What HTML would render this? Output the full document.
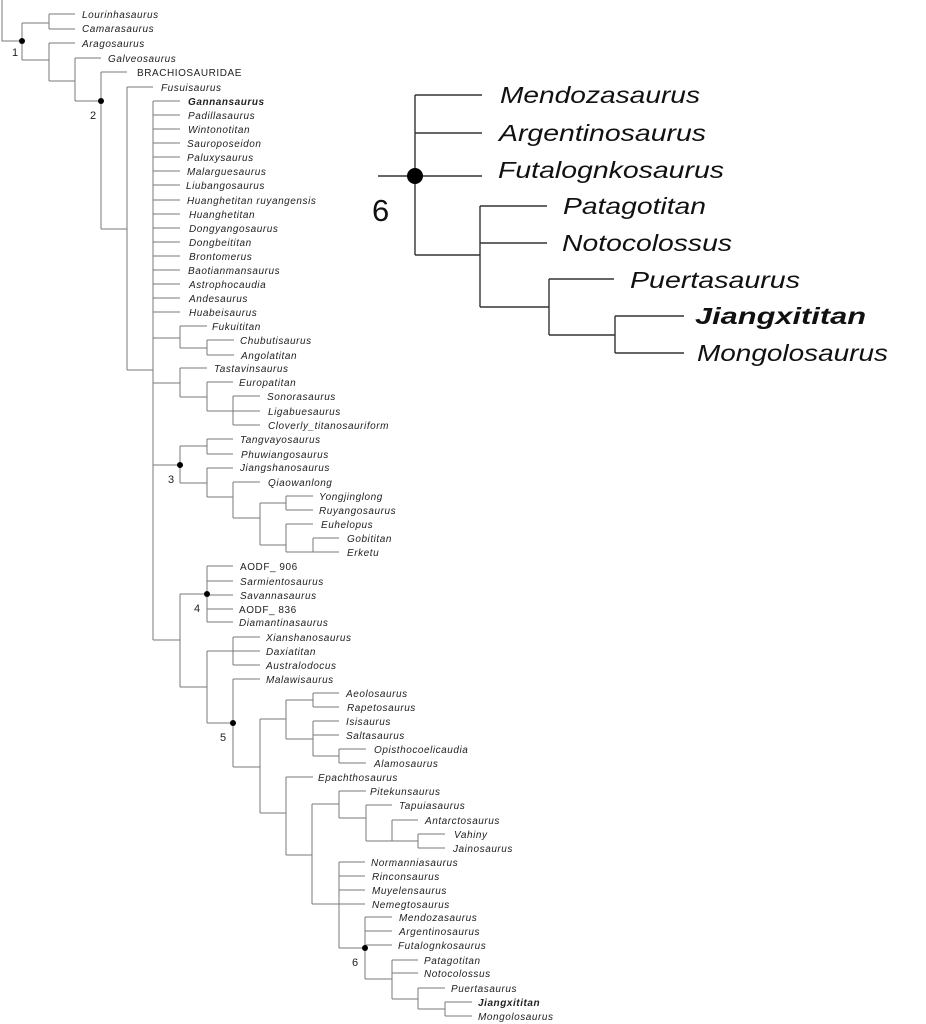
<!DOCTYPE html>
<html><head><meta charset="utf-8"><style>
html,body{margin:0;padding:0;background:#fff;}
svg{display:block;}
.t{font-family:"Liberation Sans",sans-serif;font-size:10px;font-style:italic;letter-spacing:0.55px;fill:#222;}
.u{font-style:normal;}
.b{font-weight:bold;}
.n{font-family:"Liberation Sans",sans-serif;font-size:11px;fill:#222;}
.L{font-family:"Liberation Sans",sans-serif;font-size:23px;font-style:italic;fill:#111;}
</style></head><body>
<svg width="926" height="1024" viewBox="0 0 926 1024" xmlns="http://www.w3.org/2000/svg">
<g stroke="#7a7a7a" stroke-width="1" fill="none">
<path d="M2,0V41H22 M22,23V60 M22,23H49 M49,14V29 M49,14H75 M49,29H75 M22,60H49 M49,43V81 M49,43H75 M49,81H75 M75,58V101 M75,58H101 M75,101H101 M101,72V229 M101,72H127 M101,229H127 M127,87V370 M127,87H153 M127,370H153 M153,101V640"/>
<path d="M153,101H180 M153,115H180 M153,129H180 M153,143H180 M153,157H180 M153,171H180 M153,185H180 M153,200H180 M153,214H180 M153,228H180 M153,242H180 M153,256H180 M153,270H180 M153,284H180 M153,298H180 M153,312H180"/>
<path d="M153,338H180 M180,326V348 M180,326H207 M180,348H207 M207,340V355 M207,340H234 M207,355H234"/>
<path d="M153,383H180 M180,368V397 M180,368H207 M180,397H207 M207,382V411 M207,382H233 M207,411H260 M233,396V425 M233,396H260 M233,425H260"/>
<path d="M153,465H180 M180,446V483 M180,446H207 M207,439V454 M207,439H233 M207,454H233 M180,483H207 M207,468V497 M207,468H233 M207,497H233 M233,482V518 M233,482H260 M233,518H260 M260,503V545 M260,503H286 M286,496V510 M286,496H313 M286,510H313 M260,545H286 M286,524V552 M286,524H313 M286,552H313 M313,538V552 M313,538H339 M313,552H339"/>
<path d="M153,640H180 M180,594V687 M180,594H207 M207,566V622 M207,566H233 M207,581H233 M207,595H233 M207,609H233 M207,622H233 M180,687H207 M207,651V723 M207,651H233 M233,637V665 M233,637H260 M233,651H260 M233,665H260 M207,723H233 M233,679V767 M233,679H260 M233,767H260"/>
<path d="M260,719V813 M260,719H286 M286,700V739 M286,700H313 M313,693V707 M313,693H339 M313,707H339 M286,739H313 M313,721V756 M313,721H339 M313,735H339 M313,756H339 M339,749V763 M339,749H366 M339,763H366"/>
<path d="M260,813H286 M286,777V855 M286,777H313 M286,855H312 M312,804V904 M312,804H339 M339,791V818 M339,791H366 M339,818H366 M366,805V841 M366,805H392 M366,841H392 M392,820V841 M392,820H418 M392,841H418 M418,834V848 M418,834H445 M418,848H445"/>
<path d="M312,904H339 M339,862V948 M339,862H365 M339,876H365 M339,890H365 M339,904H365 M339,948H365 M365,917V979 M365,917H392 M365,931H392 M365,945H392 M365,979H392 M392,960V999 M392,960H418 M392,973H418 M392,999H418 M418,988V1009 M418,988H445 M418,1009H445 M445,1002V1016 M445,1002H472 M445,1016H472"/>
</g>
<g fill="#000"><circle cx="22" cy="41" r="3"/><circle cx="101" cy="101" r="3"/><circle cx="180" cy="465" r="3"/><circle cx="207" cy="594" r="3"/><circle cx="233" cy="723" r="3"/><circle cx="365" cy="948" r="3"/></g>
<g class="n"><text x="12" y="56">1</text><text x="90" y="119">2</text><text x="168" y="483">3</text><text x="194" y="612">4</text><text x="220" y="741">5</text><text x="352" y="966">6</text></g>
<g class="t">
<text x="82" y="18">Lourinhasaurus</text><text x="82" y="32">Camarasaurus</text><text x="82" y="47">Aragosaurus</text><text x="108" y="62">Galveosaurus</text>
<text x="137" y="76" class="t u">BRACHIOSAURIDAE</text><text x="161" y="91">Fusuisaurus</text>
<text x="188" y="105" class="t b">Gannansaurus</text><text x="188" y="119">Padillasaurus</text><text x="188" y="133">Wintonotitan</text><text x="187" y="147">Sauroposeidon</text><text x="187" y="161">Paluxysaurus</text><text x="187" y="175">Malarguesaurus</text><text x="186" y="189">Liubangosaurus</text><text x="187" y="204">Huanghetitan ruyangensis</text><text x="189" y="218">Huanghetitan</text><text x="189" y="232">Dongyangosaurus</text><text x="189" y="246">Dongbeititan</text><text x="189" y="260">Brontomerus</text><text x="188" y="274">Baotianmansaurus</text><text x="189" y="288">Astrophocaudia</text><text x="189" y="302">Andesaurus</text><text x="189" y="316">Huabeisaurus</text>
<text x="212" y="330">Fukuititan</text><text x="240" y="344">Chubutisaurus</text><text x="241" y="359">Angolatitan</text>
<text x="214" y="372">Tastavinsaurus</text><text x="239" y="386">Europatitan</text><text x="267" y="400">Sonorasaurus</text><text x="268" y="415">Ligabuesaurus</text><text x="268" y="429">Cloverly_titanosauriform</text>
<text x="240" y="443">Tangvayosaurus</text><text x="241" y="458">Phuwiangosaurus</text><text x="240" y="471">Jiangshanosaurus</text><text x="268" y="486">Qiaowanlong</text><text x="319" y="500">Yongjinglong</text><text x="319" y="514">Ruyangosaurus</text><text x="321" y="528">Euhelopus</text><text x="347" y="542">Gobititan</text><text x="347" y="556">Erketu</text>
<text x="240" y="570" class="t u">AODF_ 906</text><text x="240" y="585">Sarmientosaurus</text><text x="240" y="599">Savannasaurus</text><text x="239" y="613" class="t u">AODF_ 836</text><text x="239" y="626">Diamantinasaurus</text>
<text x="266" y="641">Xianshanosaurus</text><text x="266" y="655">Daxiatitan</text><text x="266" y="669">Australodocus</text><text x="266" y="683">Malawisaurus</text>
<text x="346" y="697">Aeolosaurus</text><text x="347" y="711">Rapetosaurus</text><text x="346" y="725">Isisaurus</text><text x="346" y="739">Saltasaurus</text><text x="374" y="753">Opisthocoelicaudia</text><text x="374" y="767">Alamosaurus</text>
<text x="318" y="781">Epachthosaurus</text><text x="370" y="795">Pitekunsaurus</text><text x="399" y="809">Tapuiasaurus</text><text x="425" y="824">Antarctosaurus</text><text x="454" y="838">Vahiny</text><text x="453" y="852">Jainosaurus</text>
<text x="371" y="866">Normanniasaurus</text><text x="372" y="880">Rinconsaurus</text><text x="372" y="894">Muyelensaurus</text><text x="372" y="908">Nemegtosaurus</text>
<text x="399" y="921">Mendozasaurus</text><text x="399" y="935">Argentinosaurus</text><text x="398" y="949">Futalognkosaurus</text><text x="424" y="964">Patagotitan</text><text x="424" y="977">Notocolossus</text><text x="451" y="992">Puertasaurus</text><text x="478" y="1006" class="t b">Jiangxititan</text><text x="478" y="1020">Mongolosaurus</text>
</g>
<g stroke="#333" stroke-width="1.4" fill="none">
<path d="M378,176H415 M415,95V255 M415,95H482 M415,133H482 M415,176H482 M415,255H480 M480,206V307 M480,206H547 M480,243H547 M480,307H549 M549,279V335 M549,279H614 M549,335H615 M615,316V353 M615,316H684 M615,353H684"/>
</g>
<circle cx="415" cy="176" r="8" fill="#000"/>
<text x="372" y="221" font-family="Liberation Sans,sans-serif" font-size="31" fill="#111">6</text>
<g class="L">
<text x="500" y="103" textLength="200" lengthAdjust="spacingAndGlyphs">Mendozasaurus</text>
<text x="499" y="141" textLength="207" lengthAdjust="spacingAndGlyphs">Argentinosaurus</text>
<text x="498" y="178" textLength="226" lengthAdjust="spacingAndGlyphs">Futalognkosaurus</text>
<text x="563" y="214" textLength="143" lengthAdjust="spacingAndGlyphs">Patagotitan</text>
<text x="562" y="251" textLength="170" lengthAdjust="spacingAndGlyphs">Notocolossus</text>
<text x="630" y="288" textLength="170" lengthAdjust="spacingAndGlyphs">Puertasaurus</text>
<text x="695" y="324" textLength="171" lengthAdjust="spacingAndGlyphs" font-weight="bold">Jiangxititan</text>
<text x="697" y="361" textLength="191" lengthAdjust="spacingAndGlyphs">Mongolosaurus</text>
</g>
</svg>
</body></html>
